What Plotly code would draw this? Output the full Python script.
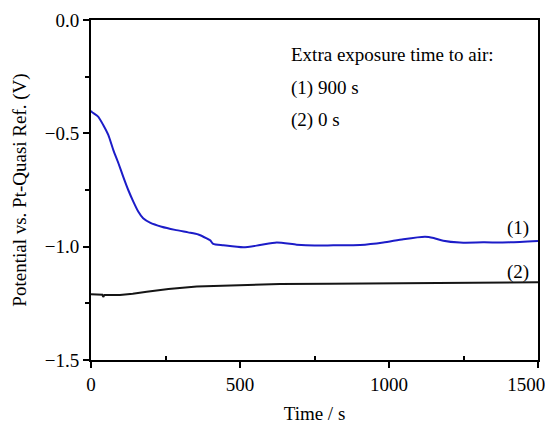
import plotly.graph_objects as go

# Curve (1): 900 s extra exposure
t1 = [0, 2, 24, 41, 58, 75, 92, 108, 125, 142, 159, 175, 198, 237, 282, 326, 360, 388, 400, 410, 444, 511, 567, 623, 690, 750, 813, 903, 981, 1048, 1121, 1150, 1182, 1238, 1316, 1406, 1500]
v1 = [-0.40, -0.405, -0.426, -0.463, -0.507, -0.574, -0.632, -0.691, -0.75, -0.801, -0.846, -0.875, -0.894, -0.912, -0.926, -0.937, -0.946, -0.963, -0.972, -0.988, -0.994, -1.003, -0.993, -0.982, -0.991, -0.995, -0.994, -0.993, -0.982, -0.967, -0.956, -0.962, -0.974, -0.982, -0.981, -0.981, -0.975]

# Curve (2): 0 s extra exposure
t2 = [0, 2, 30, 38, 41, 45, 97, 140, 187, 260, 355, 450, 533, 634, 800, 981, 1200, 1500]
v2 = [-1.21, -1.21, -1.212, -1.212, -1.222, -1.213, -1.213, -1.208, -1.199, -1.187, -1.176, -1.172, -1.169, -1.165, -1.164, -1.162, -1.16, -1.157]

x_ticks = [0, 500, 1000, 1500]
x_tick_labels = ["0", "500", "1000", "1500\u00a0\u00a0\u00a0\u00a0\u00a0"]  # trailing no-break spaces keep the last label inside the page
y_ticks = [0.0, -0.5, -1.0, -1.5]

font = "Liberation Serif, Times New Roman, serif"

fig = go.Figure()
fig.add_trace(go.Scatter(x=t1, y=v1, mode="lines", line=dict(color="#1c1cc8", width=2, shape="spline", smoothing=0.6), showlegend=False))
fig.add_trace(go.Scatter(x=t2, y=v2, mode="lines", line=dict(color="#151515", width=2), showlegend=False))

axis_common = dict(showgrid=False, zeroline=False, showline=True, linecolor="black", linewidth=2,
                   mirror=True, ticks="outside", tickcolor="black", tickwidth=1.5, ticklen=6,
                   automargin=False, ticklabeloverflow="allow",
                   tickfont=dict(family=font, size=19, color="black"))

fig.update_xaxes(range=[0, 1500], tickvals=x_ticks, ticktext=x_tick_labels,
                 title=dict(text="Time / s", font=dict(family=font, size=19, color="black"), standoff=13),
                 minor=dict(tickvals=[250, 750, 1250], ticks="inside", ticklen=4, tickcolor="black", tickwidth=1.5),
                 **axis_common)
fig.update_yaxes(range=[-1.5, 0.0], tickvals=y_ticks, tickformat=".1f",
                 title=dict(text="Potential vs. Pt-Quasi Ref. (V)", font=dict(family=font, size=19, color="black"), standoff=13),
                 minor=dict(tickvals=[-0.25, -0.75, -1.25], ticks="outside", ticklen=4, tickcolor="black", tickwidth=1.5),
                 **axis_common)

ann_font = dict(family=font, size=19, color="black")
fig.add_annotation(x=664, y=-0.154, xref="x", yref="y", text="Extra exposure time to air:", showarrow=False, xanchor="left", font=ann_font)
fig.add_annotation(x=664, y=-0.30, xref="x", yref="y", text="(1) 900 s", showarrow=False, xanchor="left", font=ann_font)
fig.add_annotation(x=664, y=-0.441, xref="x", yref="y", text="(2) 0 s", showarrow=False, xanchor="left", font=ann_font)
fig.add_annotation(x=1433, y=-0.918, xref="x", yref="y", text="(1)", showarrow=False, font=ann_font)
fig.add_annotation(x=1433, y=-1.112, xref="x", yref="y", text="(2)", showarrow=False, font=ann_font)

# page body has an 8px margin; compensate so the plot area lands where the reference's does
fig.update_layout(width=545, height=417, margin=dict(l=83, r=15, t=12, b=65),
                  plot_bgcolor="white", paper_bgcolor="white", font=dict(family=font))

fig.write_html("out.html")
